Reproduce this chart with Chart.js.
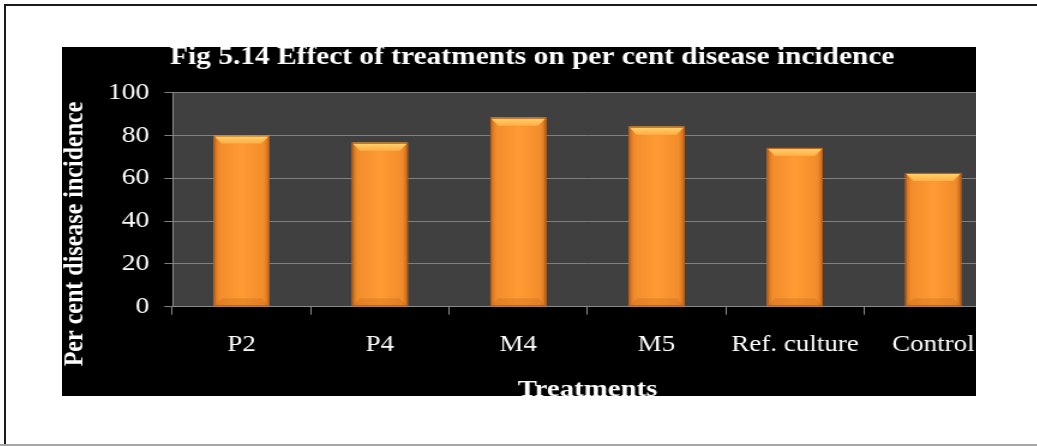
<!DOCTYPE html>
<html>
<head>
<meta charset="utf-8">
<script src="https://cdn.jsdelivr.net/npm/chart.js@4/dist/chart.umd.min.js"></script>
<style>
  body { margin: 0; background: #fff; width: 1037px; height: 446px; position: relative; overflow: hidden; }
  #topLine { position: absolute; left: 4px; top: 4px; width: 1033px; height: 2px; background: #1a1a1a; }
  #leftLine { position: absolute; left: 4px; top: 4px; width: 2px; height: 440px; background: #1a1a1a; }
  #bottomLine { position: absolute; left: 0; top: 444px; width: 1037px; height: 2px; background: #a6a6a6; }
  #box { position: absolute; left: 62px; top: 47px; width: 914px; height: 349px; background: #000; overflow: hidden; }
  /* the original picture is stretched sideways, so the chart is too */
  #box canvas { position: absolute; left: 0; top: -10px; transform: scaleX(1.2); transform-origin: 0 0; }
</style>
</head>
<body>
<div id="topLine"></div>
<div id="leftLine"></div>
<div id="bottomLine"></div>
<div id="box"><canvas id="incidence" width="792" height="370"></canvas></div>
<script>
var treatments = ['P2', 'P4', 'M4', 'M5', 'Ref. culture', 'Control'];
var incidence = [80.0, 76.6, 88.3, 84.1, 74.2, 62.5];
var yMin = 0, yMax = 100, yStep = 20;

var serif = "'Liberation Serif', 'Times New Roman', serif";
Chart.defaults.font.family = serif;
Chart.defaults.color = '#fff';

// dark grey plot area
var plotBg = {
    id: 'plotBg',
    beforeDraw: function(chart){
        var a = chart.chartArea, ctx = chart.ctx;
        ctx.save();
        ctx.fillStyle = '#404040';
        ctx.fillRect(a.left, a.top, a.right - a.left, a.bottom - a.top);
        ctx.restore();
    }
};

// bevelled orange bars, drawn over the library's bar elements
var bevel = {
    id: 'bevel',
    afterDatasetsDraw: function(chart){
        var ctx = chart.ctx;
        chart.getDatasetMeta(0).data.forEach(function(bar){
            var l = bar.x - bar.width / 2, r = bar.x + bar.width / 2;
            var t = bar.y, b = bar.base, dx = 6.7, dy = 8;
            ctx.save();
            var g = ctx.createLinearGradient(l, 0, r, 0);
            g.addColorStop(0, '#c86a1c');
            g.addColorStop(0.1, '#f28d2c');
            g.addColorStop(0.5, '#ff9b33');
            g.addColorStop(0.9, '#f28d2c');
            g.addColorStop(1, '#c86a1c');
            ctx.fillStyle = g;
            ctx.fillRect(l, t, r - l, b - t);
            // top bevel
            var tg = ctx.createLinearGradient(0, t, 0, t + dy);
            tg.addColorStop(0, '#ffd46e');
            tg.addColorStop(1, '#ffae46');
            ctx.fillStyle = tg;
            ctx.beginPath();
            ctx.moveTo(l, t); ctx.lineTo(r, t); ctx.lineTo(r - dx, t + dy); ctx.lineTo(l + dx, t + dy);
            ctx.closePath(); ctx.fill();
            // bottom bevel
            ctx.fillStyle = 'rgba(200,105,25,0.35)';
            ctx.beginPath();
            ctx.moveTo(l, b); ctx.lineTo(r, b); ctx.lineTo(r - dx, b - dy); ctx.lineTo(l + dx, b - dy);
            ctx.closePath(); ctx.fill();
            ctx.strokeStyle = '#b45c18';
            ctx.lineWidth = 1;
            ctx.strokeRect(l + 0.5, t + 0.5, r - l - 1, b - t - 1);
            ctx.restore();
        });
    }
};

// y axis title, placed left of the tick labels
var yTitle = {
    id: 'yTitle',
    afterDraw: function(chart){
        var ctx = chart.ctx;
        ctx.save();
        ctx.translate(10.8, 197);
        ctx.rotate(-Math.PI / 2);
        ctx.font = 'bold 24px ' + serif;
        ctx.fillStyle = '#fff';
        ctx.textAlign = 'center';
        ctx.textBaseline = 'middle';
        ctx.fillText('Per cent disease incidence', 0, 0);
        ctx.restore();
    }
};

new Chart('incidence', {
    type: 'bar',
    data: {
        labels: treatments,
        datasets: [{
            label: 'Per cent disease incidence',
            data: incidence,
            backgroundColor: '#f8952f',
            categoryPercentage: 1,
            barPercentage: 0.403
        }]
    },
    options: {
        responsive: false,
        animation: false,
        layout: { padding: { left: 0, right: 8.3, top: 0, bottom: 0 } },
        plugins: {
            legend: { display: false },
            tooltip: { enabled: false },
            title: {
                display: true,
                text: 'Fig 5.14 Effect of treatments on per cent disease incidence',
                color: '#fff',
                font: { size: 24.5, weight: 'bold', lineHeight: 1.2 },
                padding: { top: 5.5, bottom: 20.8 }
            }
        },
        scales: {
            x: {
                grid: { display: true, drawOnChartArea: false, drawTicks: true, tickLength: 8, color: '#8a8a8a', offset: true },
                border: { display: true, color: '#8a8a8a' },
                ticks: { color: '#fff', font: { size: 22.5 }, padding: 17, maxRotation: 0, autoSkip: false },
                title: {
                    display: true,
                    text: 'Treatments',
                    color: '#fff',
                    font: { size: 24, weight: 'bold', lineHeight: 1.2 },
                    padding: { top: 0, bottom: 3 }
                },
                afterFit: function(scale){ scale.height = 100.3; }
            },
            y: {
                min: yMin,
                max: yMax,
                grid: { color: '#808080', tickLength: 6.7 },
                border: { display: true, color: '#8a8a8a' },
                ticks: { stepSize: yStep, color: '#fff', font: { size: 23 }, padding: 12.5 },
                afterFit: function(scale){ scale.width = 92; }
            }
        }
    },
    plugins: [plotBg, bevel, yTitle]
});
</script>
</body>
</html>
